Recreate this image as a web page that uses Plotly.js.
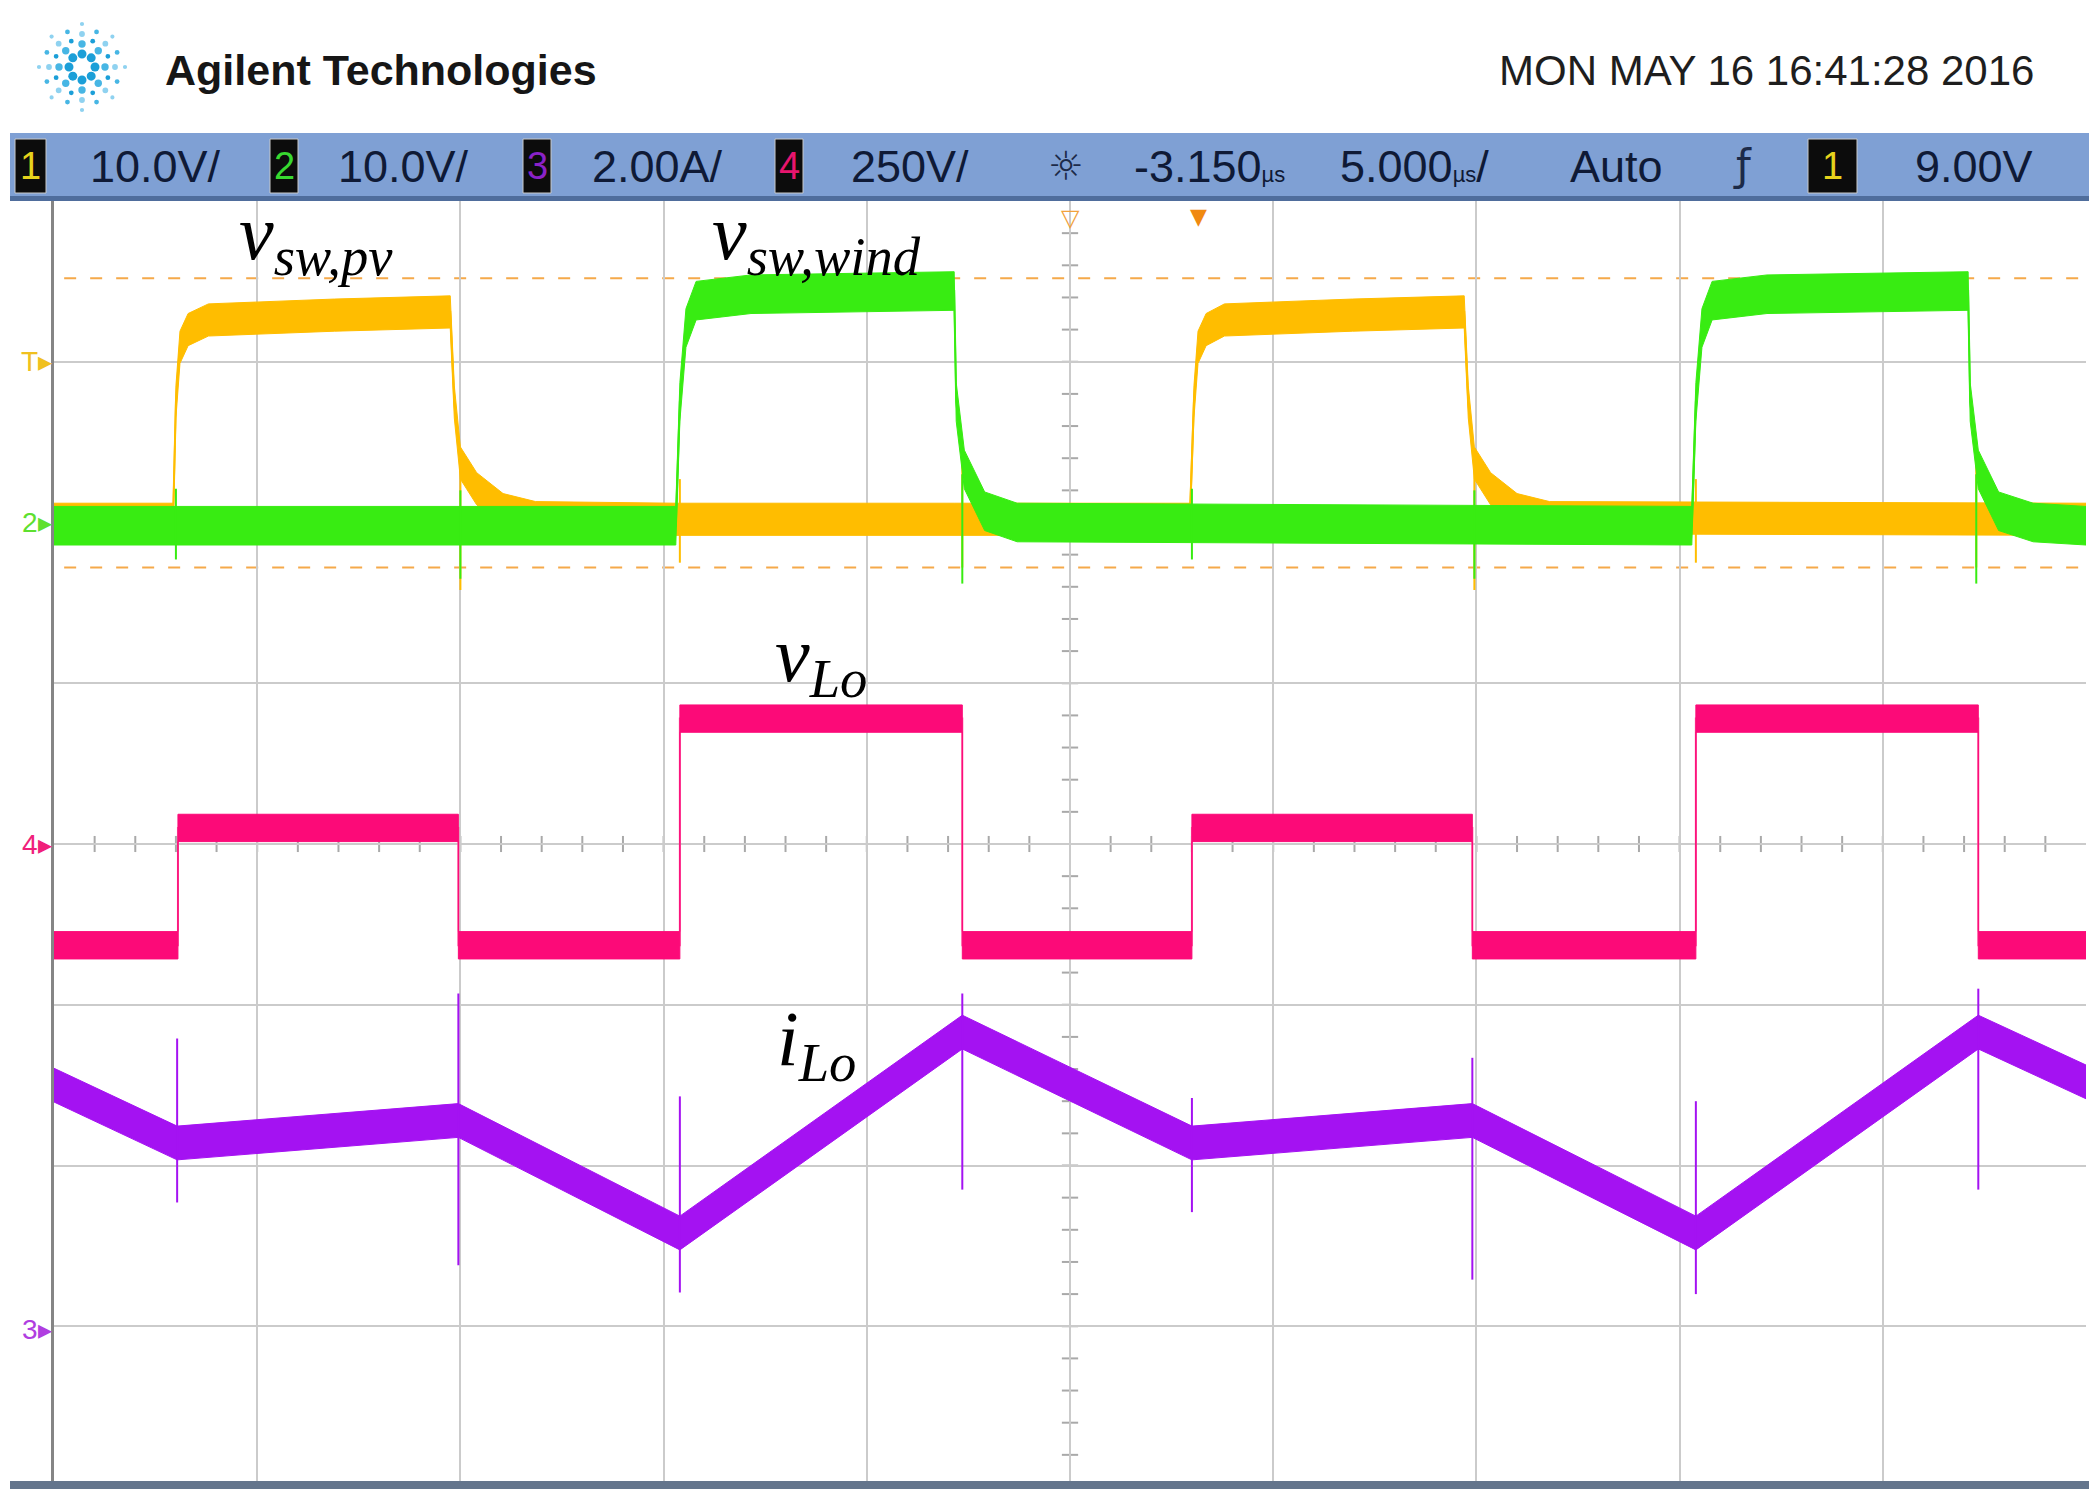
<!DOCTYPE html>
<html>
<head>
<meta charset="utf-8">
<script src="https://cdn.plot.ly/plotly-3.0.1.min.js"></script>
<style>
  html, body { margin: 0; padding: 0; background: #ffffff; }
  #scope { width: 2089px; height: 1497px; }
</style>
</head>
<body>
<div id="scope"></div>
<script>
// all waveform values in screen divisions (x: 0..10 div, y: -4..4 div)

// ch1 - v_sw,pv (yellow)
const ch1T = [0, 0.586, 0.60, 0.62, 0.66, 0.76, 1.38, 1.95, 1.97, 2.0, 2.08, 2.21, 2.37, 3.06, 4.43,
              5.59, 5.61, 5.63, 5.67, 5.76, 6.39, 6.94, 6.96, 6.99, 7.07, 7.2, 7.36, 10];
const ch1V = [2.02, 2.02, 2.75, 3.09, 3.20, 3.26, 3.29, 3.31, 2.75, 2.37, 2.21, 2.08, 2.03, 2.02, 2.02,
              2.02, 2.75, 3.09, 3.20, 3.26, 3.29, 3.31, 2.75, 2.37, 2.21, 2.08, 2.03, 2.02];
const ch1SpikeT = [2.0, 3.08, 4.47, 6.99, 8.08, 9.46];
const ch1SpikeHi = [2.37, 2.27, 2.42, 2.37, 2.27, 2.42];
const ch1SpikeLo = [1.58, 1.75, 1.72, 1.58, 1.75, 1.72];

// ch2 - v_sw,wind (green)
const ch2T = [0, 3.06, 3.08, 3.11, 3.16, 3.43, 4.43, 4.44, 4.48, 4.58, 4.74,
              8.06, 8.08, 8.11, 8.16, 8.43, 9.42, 9.43, 9.47, 9.57, 9.74, 10];
const ch2V = [1.98, 1.98, 2.75, 3.21, 3.38, 3.42, 3.44, 2.75, 2.33, 2.07, 2.0,
              1.98, 2.75, 3.21, 3.38, 3.42, 3.44, 2.75, 2.33, 2.07, 2.0, 1.98];
const ch2SpikeT = [0.6, 2.0, 4.47, 5.6, 6.99, 9.46];
const ch2SpikeHi = [2.21, 2.2, 2.3, 2.21, 2.2, 2.3];
const ch2SpikeLo = [1.77, 1.65, 1.62, 1.77, 1.65, 1.62];

// ch4 - v_Lo (pink), step levels between switching edges
const ch4Edges = [0, 0.61, 1.99, 3.08, 4.47, 5.6, 6.98, 8.08, 9.47, 10];
const ch4Levels = [-0.63, 0.10, -0.63, 0.78, -0.63, 0.10, -0.63, 0.78, -0.63];

// ch3 - i_Lo (purple)
const ch3T = [0, 0.606, 1.99, 3.08, 4.47, 5.6, 6.98, 8.08, 9.47, 10];
const ch3V = [-1.5, -1.86, -1.72, -2.42, -1.17, -1.86, -1.72, -2.42, -1.17, -1.48];
const ch3SpikeT = [0.606, 1.99, 3.08, 4.47, 5.6, 6.98, 8.08, 9.47];
const ch3SpikeHi = [-1.21, -0.93, -1.57, -0.93, -1.58, -1.33, -1.6, -0.9];
const ch3SpikeLo = [-2.23, -2.62, -2.79, -2.15, -2.29, -2.71, -2.8, -2.15];

const cursorLevels = [3.52, 1.72];

const statusItems = ['10.0V/', '10.0V/', '2.00A/', '250V/'];
const headerTitle = 'Agilent Technologies';
const headerDate = 'MON MAY 16 16:41:28 2016';

// colours
const cYellow = '#ffbd00';
const cGreen = '#38ec12';
const cPink = '#fc0a78';
const cPurple = '#a412f2';

// page geometry of the graticule
const W = 2089, H = 1497;
const L = 54, R = 2086, T = 201, B = 1487;
const px = x => (x - L) / (R - L);
const py = y => (B - y) / (B - T);

const sansFont = 'Liberation Sans, Arial, sans-serif';

function bandTrace(xs, ys, half, color) {
  const up = ys.map(v => v + half);
  const dn = ys.map(v => v - half).reverse();
  return {
    x: xs.concat(xs.slice().reverse()),
    y: up.concat(dn),
    type: 'scatter', mode: 'lines', fill: 'toself',
    fillcolor: color, line: {color: color, width: 1},
    hoverinfo: 'skip'
  };
}

function edgeTrace(xs, ys, color, w) {
  return {x: xs, y: ys, type: 'scatter', mode: 'lines',
          line: {color: color, width: w}, hoverinfo: 'skip'};
}

function spikeTrace(ts, hi, lo, color) {
  let x = [], y = [];
  for (let i = 0; i < ts.length; i++) {
    x.push(ts[i], ts[i], null);
    y.push(hi[i], lo[i], null);
  }
  return {x: x, y: y, type: 'scatter', mode: 'lines',
          line: {color: color, width: 2}, hoverinfo: 'skip'};
}

// step wave -> point list
let ch4T = [], ch4V = [];
for (let i = 0; i < ch4Levels.length; i++) {
  ch4T.push(ch4Edges[i], ch4Edges[i + 1]);
  ch4V.push(ch4Levels[i], ch4Levels[i]);
}

let data = [];
data.push(edgeTrace(ch1T, ch1V, cYellow, 2));
data.push(bandTrace(ch1T, ch1V, 0.1, cYellow));
data.push(spikeTrace(ch1SpikeT, ch1SpikeHi, ch1SpikeLo, cYellow));
data.push(edgeTrace(ch2T, ch2V, cGreen, 2));
data.push(bandTrace(ch2T, ch2V, 0.12, cGreen));
data.push(spikeTrace(ch2SpikeT, ch2SpikeHi, ch2SpikeLo, cGreen));
data.push(edgeTrace(ch4T, ch4V, '#ff5fa6', 2));
data.push(bandTrace(ch4T, ch4V, 0.085, cPink));
data.push(bandTrace(ch3T, ch3V, 0.105, cPurple));
data.push(spikeTrace(ch3SpikeT, ch3SpikeHi, ch3SpikeLo, cPurple));

// ---- decorations ----
let shapes = [];
let annotations = [];

// status bar
shapes.push({type: 'rect', xref: 'paper', yref: 'paper', x0: px(10), x1: px(2089), y0: py(200), y1: py(133),
             fillcolor: '#7fa0d4', line: {width: 0}, layer: 'above'});
shapes.push({type: 'rect', xref: 'paper', yref: 'paper', x0: px(10), x1: px(2089), y0: py(201), y1: py(196),
             fillcolor: '#4f6d9c', line: {width: 0}, layer: 'above'});
// bottom frame
shapes.push({type: 'rect', xref: 'paper', yref: 'paper', x0: px(10), x1: px(2089), y0: py(1489), y1: py(1481),
             fillcolor: '#64758c', line: {width: 0}, layer: 'above'});

// cursor lines
cursorLevels.forEach(v => {
  shapes.push({type: 'line', xref: 'paper', yref: 'y', x0: 0.005, x1: 1, y0: v, y1: v,
               line: {color: '#f5a94a', width: 2, dash: '12px,14px'}, layer: 'below'});
});

// minor ticks on centre cross
for (let k = 1; k < 50; k++) {
  const xv = k * 0.2;
  shapes.push({type: 'line', xref: 'x', yref: 'y', x0: xv, x1: xv, y0: -0.05, y1: 0.05,
               line: {color: '#a9a9a9', width: 2}, layer: 'below'});
}
for (let k = 1; k < 40; k++) {
  const yv = -4 + k * 0.2;
  shapes.push({type: 'line', xref: 'x', yref: 'y', x0: 4.96, x1: 5.04, y0: yv, y1: yv,
               line: {color: '#a9a9a9', width: 2}, layer: 'below'});
}

// channel number boxes
const boxes = [
  {x0: 15, x1: 46, d: '1', c: '#e6d21c'},
  {x0: 270, x1: 298, d: '2', c: '#38d830'},
  {x0: 523, x1: 551, d: '3', c: '#8a22c8'},
  {x0: 775, x1: 803, d: '4', c: '#e8156e'},
  {x0: 1808, x1: 1857, d: '1', c: '#e6d21c'}
];
boxes.forEach(b => {
  shapes.push({type: 'rect', xref: 'paper', yref: 'paper', x0: px(b.x0), x1: px(b.x1), y0: py(193), y1: py(139),
               fillcolor: '#0c0c0c', line: {color: '#c9c9c9', width: 1}, layer: 'above'});
  annotations.push({xref: 'paper', yref: 'paper', x: px((b.x0 + b.x1) / 2), y: py(166), text: b.d,
                    showarrow: false, xanchor: 'center', yanchor: 'middle',
                    font: {family: sansFont, size: 38, color: b.c}});
});

const barFont = {family: sansFont, size: 45, color: '#0f1a36'};
const barText = [
  {x: 155, t: statusItems[0]},
  {x: 403, t: statusItems[1]},
  {x: 657, t: statusItems[2]},
  {x: 910, t: statusItems[3]},
  {x: 1209, t: '-3.150<span style="font-size:22px">µs</span>'},
  {x: 1414, t: '5.000<span style="font-size:22px">µs</span>/'},
  {x: 1616, t: 'Auto'},
  {x: 1974, t: '9.00V'}
];
barText.forEach(b => {
  annotations.push({xref: 'paper', yref: 'paper', x: px(b.x), y: py(167), text: b.t, showarrow: false,
                    xanchor: 'center', yanchor: 'middle', font: barFont});
});
annotations.push({xref: 'paper', yref: 'paper', x: px(1066), y: py(166), text: '☼', showarrow: false,
                  xanchor: 'center', yanchor: 'middle', font: {family: 'DejaVu Sans', size: 40, color: '#1c2a48'}});
annotations.push({xref: 'paper', yref: 'paper', x: px(1742), y: py(166), text: 'ƒ', showarrow: false,
                  xanchor: 'center', yanchor: 'middle', font: {family: 'DejaVu Sans', size: 42, color: '#1c2a48'}});

// header
annotations.push({xref: 'paper', yref: 'paper', x: px(163), y: py(70), text: '<b>' + headerTitle + '</b>', showarrow: false,
                  xanchor: 'left', yanchor: 'middle',
                  font: {family: sansFont, size: 43, color: '#161616'}});
annotations.push({xref: 'paper', yref: 'paper', x: px(2036), y: py(70), text: headerDate, showarrow: false,
                  xanchor: 'right', yanchor: 'middle',
                  font: {family: sansFont, size: 42, color: '#1e1e1e'}});

// logo spark
const lx = 82, ly = 67;
for (let a = 0; a < 16; a++) {
  const ang = a * Math.PI / 8;
  const radii = a % 2 === 0 ? [13, 23, 33, 43] : [28, 38];
  radii.forEach((r, j) => {
    const s = a % 2 === 0 ? 4.5 - j * 0.8 : 2.4;
    const cx = lx + r * Math.cos(ang), cy = ly + r * Math.sin(ang);
    shapes.push({type: 'circle', xref: 'paper', yref: 'paper',
                 x0: px(cx - s), x1: px(cx + s), y0: py(cy + s), y1: py(cy - s),
                 fillcolor: j === 0 ? '#1b9fd8' : (j === 1 ? '#47b6e4' : '#8fd2f0'), line: {width: 0}});
  });
}

// top trigger markers
annotations.push({xref: 'x', yref: 'paper', x: 5, y: py(202), text: '▽', showarrow: false, xanchor: 'center', yanchor: 'top',
                  font: {family: 'DejaVu Sans', size: 24, color: '#f2a23c'}});
annotations.push({xref: 'x', yref: 'paper', x: 5.63, y: py(202), text: '▼', showarrow: false, xanchor: 'center', yanchor: 'top',
                  font: {family: 'DejaVu Sans', size: 22, color: '#f08a10'}});

// left ground markers
const markers = [
  {y: 3.0, t: 'T▸', c: '#f0c020'},
  {y: 2.0, t: '2▸', c: '#5ee030'},
  {y: 0.0, t: '4▸', c: '#f0207a'},
  {y: -3.02, t: '3▸', c: '#b03ee0'}
];
markers.forEach(m => {
  annotations.push({xref: 'paper', yref: 'y', x: px(54), y: m.y, text: m.t, showarrow: false,
                    xanchor: 'right', yanchor: 'middle',
                    font: {family: sansFont, size: 28, color: m.c}});
});

// waveform labels
const lblFont = {family: 'Liberation Serif, Times New Roman, serif', size: 78, color: '#000000'};
const labels = [
  {x: 0.90, y: 3.45, t: '<i>v</i><sub><i>sw,pv</i></sub>'},
  {x: 3.23, y: 3.45, t: '<i>v</i><sub><i>sw,wind</i></sub>'},
  {x: 3.54, y: 0.83, t: '<i>v</i><sub><i>Lo</i></sub>'},
  {x: 3.55, y: -1.56, t: '<i>i</i><sub><i>Lo</i></sub>'}
];
labels.forEach(l => {
  annotations.push({xref: 'x', yref: 'y', x: l.x, y: l.y, text: l.t, showarrow: false,
                    xanchor: 'left', yanchor: 'bottom', font: lblFont});
});

const layout = {
  width: W, height: H,
  margin: {l: L, r: W - R, t: T, b: H - B, pad: 0},
  paper_bgcolor: '#ffffff',
  plot_bgcolor: '#ffffff',
  showlegend: false,
  xaxis: {
    range: [0, 10], dtick: 1, tick0: 0,
    showgrid: true, gridcolor: '#cbcbcb', gridwidth: 2,
    zeroline: false, showticklabels: false, ticks: '',
    showline: false, fixedrange: true
  },
  yaxis: {
    range: [-4, 4], dtick: 1, tick0: 0,
    showgrid: true, gridcolor: '#cbcbcb', gridwidth: 2,
    zeroline: false, showticklabels: false, ticks: '',
    showline: true, linecolor: '#858585', linewidth: 3, mirror: false,
    fixedrange: true
  },
  shapes: shapes,
  annotations: annotations
};

Plotly.newPlot('scope', data, layout, {displayModeBar: false, staticPlot: true});
</script>
</body>
</html>
